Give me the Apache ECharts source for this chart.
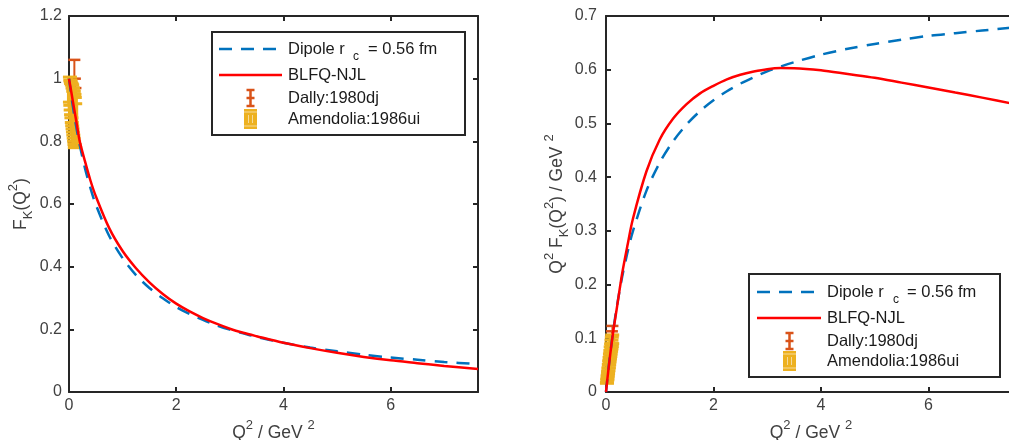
<!DOCTYPE html>
<html>
<head>
<meta charset="utf-8">
<script src="https://cdn.jsdelivr.net/npm/echarts@6/dist/echarts.min.js"></script>
<style>
html, body { margin: 0; padding: 0; overflow: hidden; background: #fff; }
#chart { width: 1020px; height: 440px; }
</style>
</head>
<body>
<div id="chart"></div>
<script>
// Q^2 grid of the model curves (GeV^2)
var q2Curve = [0, 0.05, 0.1, 0.15, 0.2, 0.3, 0.4, 0.5, 0.75, 1, 1.25, 1.5, 1.75, 2, 2.25, 2.5, 2.75, 3, 3.25, 3.5, 4, 4.5, 5, 5.5, 6, 6.5, 7, 7.63];

// left panel: F_K(Q^2)
var dipoleF = [1, 0.937, 0.882, 0.832, 0.788, 0.713, 0.651, 0.598, 0.498, 0.427, 0.373, 0.332, 0.299, 0.271, 0.249, 0.230, 0.213, 0.199, 0.187, 0.176, 0.157, 0.142, 0.130, 0.119, 0.110, 0.103, 0.096, 0.089];
var blfqF = [1, 0.95, 0.90, 0.85, 0.80, 0.735, 0.675, 0.625, 0.523, 0.45, 0.395, 0.35, 0.313, 0.282, 0.257, 0.236, 0.218, 0.202, 0.189, 0.178, 0.157, 0.14, 0.125, 0.112, 0.101, 0.092, 0.083, 0.0735];

// right panel: Q^2 F_K(Q^2)
var dipoleQ2F = [0, 0.047, 0.088, 0.125, 0.158, 0.214, 0.260, 0.299, 0.374, 0.427, 0.467, 0.498, 0.523, 0.543, 0.560, 0.574, 0.586, 0.597, 0.606, 0.614, 0.628, 0.639, 0.648, 0.656, 0.663, 0.668, 0.673, 0.679];
var blfqQ2F = [0, 0.046, 0.087, 0.123, 0.155, 0.22, 0.273, 0.322, 0.41, 0.47, 0.509, 0.536, 0.556, 0.570, 0.582, 0.5905, 0.5965, 0.601, 0.603, 0.6028, 0.599, 0.592, 0.585, 0.576, 0.567, 0.5575, 0.548, 0.5355];

// Dally:1980dj
var dallyQ2 = [0.1, 0.11, 0.12];
var dallyF = [0.93, 0.90, 0.88];
var dallyFErr = [0.13, 0.10, 0.09];
var dallyQ2F = [0.093, 0.099, 0.106];
var dallyQ2FErr = [0.010, 0.014, 0.017];

// Amendolia:1986ui
var amendQ2 = [0.0175, 0.0245, 0.0315, 0.0385, 0.0455, 0.0525, 0.0595, 0.0665, 0.0735, 0.0805, 0.0875, 0.0945, 0.1015, 0.1085, 0.1155];
var amendF = [0.965, 0.955, 0.945, 0.935, 0.93, 0.92, 0.915, 0.905, 0.9, 0.89, 0.885, 0.875, 0.87, 0.86, 0.85];
var amendFErr = [0.04, 0.04, 0.045, 0.05, 0.055, 0.06, 0.065, 0.065, 0.07, 0.07, 0.075, 0.075, 0.08, 0.08, 0.07];
var amendQ2F = [0.0169, 0.0234, 0.0298, 0.036, 0.0423, 0.0483, 0.0544, 0.0602, 0.0662, 0.0716, 0.0774, 0.0827, 0.0883, 0.0933, 0.0982];
var amendQ2FErr = [0.0007, 0.0010, 0.0014, 0.0019, 0.0025, 0.0031, 0.0039, 0.0043, 0.0051, 0.0056, 0.0066, 0.0071, 0.0081, 0.0087, 0.0081];

var names = ['Dipole r c = 0.56 fm', 'BLFQ-NJL', 'Dally:1980dj', 'Amendolia:1986ui'];

var BLUE = '#0072BD', RED = '#FF0000', ORANGE = '#D95319', YELLOW = '#EDB120';
var AX = '#262626', LBL = '#404040';
var FONT = '"Liberation Sans", Arial, sans-serif';
var X_MAX = 7.63;

function pairs(xs, ys) {
  return xs.map(function (x, i) { return [x, ys[i]]; });
}
function triples(xs, ys, es) {
  return xs.map(function (x, i) { return [x, ys[i], es[i]]; });
}

function errorBars(color, width, capWidth, capHalf, dot) {
  return function (params, api) {
    var x = api.value(0), y = api.value(1), e = api.value(2);
    var t = api.coord([x, y + e]);
    var b = api.coord([x, y - e]);
    var m = api.coord([x, y]);
    var st = { stroke: color, lineWidth: width, fill: null };
    var cs = { stroke: color, lineWidth: capWidth, fill: null };
    var kids = [
      { type: 'line', shape: { x1: t[0], y1: t[1], x2: b[0], y2: b[1] }, style: st },
      { type: 'line', shape: { x1: t[0] - capHalf, y1: t[1], x2: t[0] + capHalf, y2: t[1] }, style: cs },
      { type: 'line', shape: { x1: b[0] - capHalf, y1: b[1], x2: b[0] + capHalf, y2: b[1] }, style: cs }
    ];
    if (dot) {
      kids.push({ type: 'circle', shape: { cx: m[0], cy: m[1], r: 1.2 }, style: { fill: color } });
    }
    return { type: 'group', children: kids };
  };
}

var rich = {
  n: { fontSize: 17.5, fontFamily: FONT, color: LBL, lineHeight: 28, verticalAlign: 'middle' },
  sup: { fontSize: 13, fontFamily: FONT, color: LBL, lineHeight: 28, verticalAlign: 'top' },
  sub: { fontSize: 13, fontFamily: FONT, color: LBL, lineHeight: 28, verticalAlign: 'bottom' }
};

var axisLine = { show: true, onZero: false, lineStyle: { color: AX, width: 2 } };
var axisTick = { show: true, inside: true, length: 5, lineStyle: { color: AX, width: 2 } };

function makeX(gi) {
  return [{
    gridIndex: gi, type: 'value', min: 0, max: X_MAX, interval: 2, position: 'bottom',
    name: '{n|Q}{sup|2}{n| / GeV }{sup|2}', nameLocation: 'middle', nameGap: 22,
    nameTextStyle: { rich: rich },
    axisLine: axisLine, axisTick: axisTick,
    axisLabel: { showMaxLabel: false, margin: 6, fontSize: 16, fontFamily: FONT, color: LBL },
    splitLine: { show: false }
  }, {
    gridIndex: gi, type: 'value', min: 0, max: X_MAX, interval: 2, position: 'top',
    axisLine: axisLine, axisTick: axisTick, axisLabel: { show: false }, splitLine: { show: false }
  }];
}

function makeY(gi, max, step, name, gap, margin) {
  return [{
    gridIndex: gi, type: 'value', min: 0, max: max, interval: step, position: 'left',
    name: name, nameLocation: 'middle', nameGap: gap, nameRotate: 90,
    nameTextStyle: { rich: rich },
    axisLine: axisLine, axisTick: axisTick,
    axisLabel: { margin: margin, fontSize: 16, fontFamily: FONT, color: LBL },
    splitLine: { show: false }
  }, {
    gridIndex: gi, type: 'value', min: 0, max: max, interval: step, position: 'right',
    axisLine: axisLine, axisTick: axisTick, axisLabel: { show: false }, splitLine: { show: false }
  }];
}

function curve(name, data, xi, yi, color, dashed) {
  return {
    name: name, type: 'line', xAxisIndex: xi, yAxisIndex: yi, data: data,
    showSymbol: false, symbol: 'none', smooth: 0.3, silent: true,
    lineStyle: { color: color, width: 2.5, type: dashed ? [13, 9] : 'solid' }
  };
}

function bars(name, data, xi, yi, color, width, capWidth, capHalf, dot) {
  return {
    name: name, type: 'custom', xAxisIndex: xi, yAxisIndex: yi, data: data, silent: true,
    encode: { x: 0, y: 1 }, renderItem: errorBars(color, width, capWidth, capHalf, dot)
  };
}

// legend drawn as graphic: box + samples + texts
function legend(L) {
  var els = [];
  var tx = { font: '16.5px ' + FONT, fill: '#1a1a1a', textVerticalAlign: 'middle', verticalAlign: 'middle' };
  function text(x, y, s, size) {
    var st = Object.assign({}, tx, { x: x, y: y, text: s });
    if (size) st.font = size + 'px ' + FONT;
    return { type: 'text', style: st, z: 101 };
  }
  els.push({ type: 'rect', shape: { x: L.x, y: L.y, width: L.w, height: L.h },
    style: { fill: '#fff', stroke: AX, lineWidth: 2 }, z: 100 });
  els.push({ type: 'line', shape: { x1: L.lx0, y1: L.rows[0], x2: L.lx1, y2: L.rows[0] },
    style: { stroke: BLUE, lineWidth: 2.5, lineDash: [13, 9] }, z: 101 });
  els.push({ type: 'line', shape: { x1: L.lx0, y1: L.rows[1], x2: L.lx1, y2: L.rows[1] },
    style: { stroke: RED, lineWidth: 2.5 }, z: 101 });
  var cx = L.ix, r2 = L.rows[2], r3 = L.rows[3];
  var os = { stroke: ORANGE, lineWidth: 2.5 };
  els.push({ type: 'line', shape: { x1: cx, y1: r2 - 8, x2: cx, y2: r2 + 8 }, style: os, z: 101 });
  [-8, 0, 8].forEach(function (d) {
    els.push({ type: 'line', shape: { x1: cx - 4, y1: r2 + d, x2: cx + 4, y2: r2 + d }, style: os, z: 101 });
  });
  els.push({ type: 'rect', shape: { x: cx - 6.5, y: r3 - 10, width: 13, height: 20 }, style: { fill: YELLOW }, z: 101 });
  var ps = { stroke: '#F6DA9A', lineWidth: 1 };
  els.push({ type: 'line', shape: { x1: cx - 2, y1: r3 - 4, x2: cx - 2, y2: r3 + 4 }, style: ps, z: 102 });
  els.push({ type: 'line', shape: { x1: cx + 2, y1: r3 - 4, x2: cx + 2, y2: r3 + 4 }, style: ps, z: 102 });
  els.push({ type: 'line', shape: { x1: cx - 6.5, y1: r3 - 7, x2: cx + 6.5, y2: r3 - 7 }, style: ps, z: 102 });
  els.push({ type: 'line', shape: { x1: cx - 6.5, y1: r3 + 7, x2: cx + 6.5, y2: r3 + 7 }, style: ps, z: 102 });
  els.push(text(L.tx, L.rows[0], 'Dipole r'));
  els.push(text(L.subx, L.rows[0] + 8, 'c', 12));
  els.push(text(L.eqx, L.rows[0], '= 0.56 fm'));
  els.push(text(L.tx, L.rows[1], names[1]));
  els.push(text(L.tx, L.rows[2], names[2]));
  els.push(text(L.tx, L.rows[3], names[3]));
  return els;
}

var chart = echarts.init(document.getElementById('chart'), null, { renderer: 'canvas' });

var option = {
  animation: false,
  backgroundColor: '#fff',
  grid: [
    { left: 69, top: 16, width: 409, height: 376, containLabel: false, outerBoundsMode: 'none' },
    { left: 606, top: 16, width: 410, height: 376, containLabel: false, outerBoundsMode: 'none' }
  ],
  xAxis: makeX(0).concat(makeX(1)),
  yAxis: makeY(0, 1.2, 0.2, '{n|F}{sub|K}{n|(Q}{sup|2}{n|)}', 34, 7)
    .concat(makeY(1, 0.7, 0.1, '{n|Q}{sup|2}{n| F}{sub|K}{n|(Q}{sup|2}{n|) / GeV }{sup|2}', 33, 9)),
  series: [
    curve(names[0], pairs(q2Curve, dipoleF), 0, 0, BLUE, true),
    curve(names[1], pairs(q2Curve, blfqF), 0, 0, RED, false),
    bars(names[2], triples(dallyQ2, dallyF, dallyFErr), 0, 0, ORANGE, 2, 2.5, 6, true),
    bars(names[3], triples(amendQ2, amendF, amendFErr), 0, 0, YELLOW, 6, 3, 7, false),
    curve(names[0], pairs(q2Curve, dipoleQ2F), 2, 2, BLUE, true),
    curve(names[1], pairs(q2Curve, blfqQ2F), 2, 2, RED, false),
    bars(names[2], triples(dallyQ2, dallyQ2F, dallyQ2FErr), 2, 2, ORANGE, 2, 2.5, 6, true),
    bars(names[3], triples(amendQ2, amendQ2F, amendQ2FErr), 2, 2, YELLOW, 6, 3, 7, false)
  ],
  graphic: legend({ x: 212, y: 32, w: 253, h: 103, rows: [49, 75, 98, 119], lx0: 219, lx1: 282, ix: 250.5, tx: 288, subx: 353, eqx: 368 })
    .concat(legend({ x: 749, y: 274, w: 251, h: 103, rows: [292, 318, 341, 361], lx0: 757, lx1: 821, ix: 789.5, tx: 827, subx: 893, eqx: 907 }))
};

chart.setOption(option);
</script>
</body>
</html>
